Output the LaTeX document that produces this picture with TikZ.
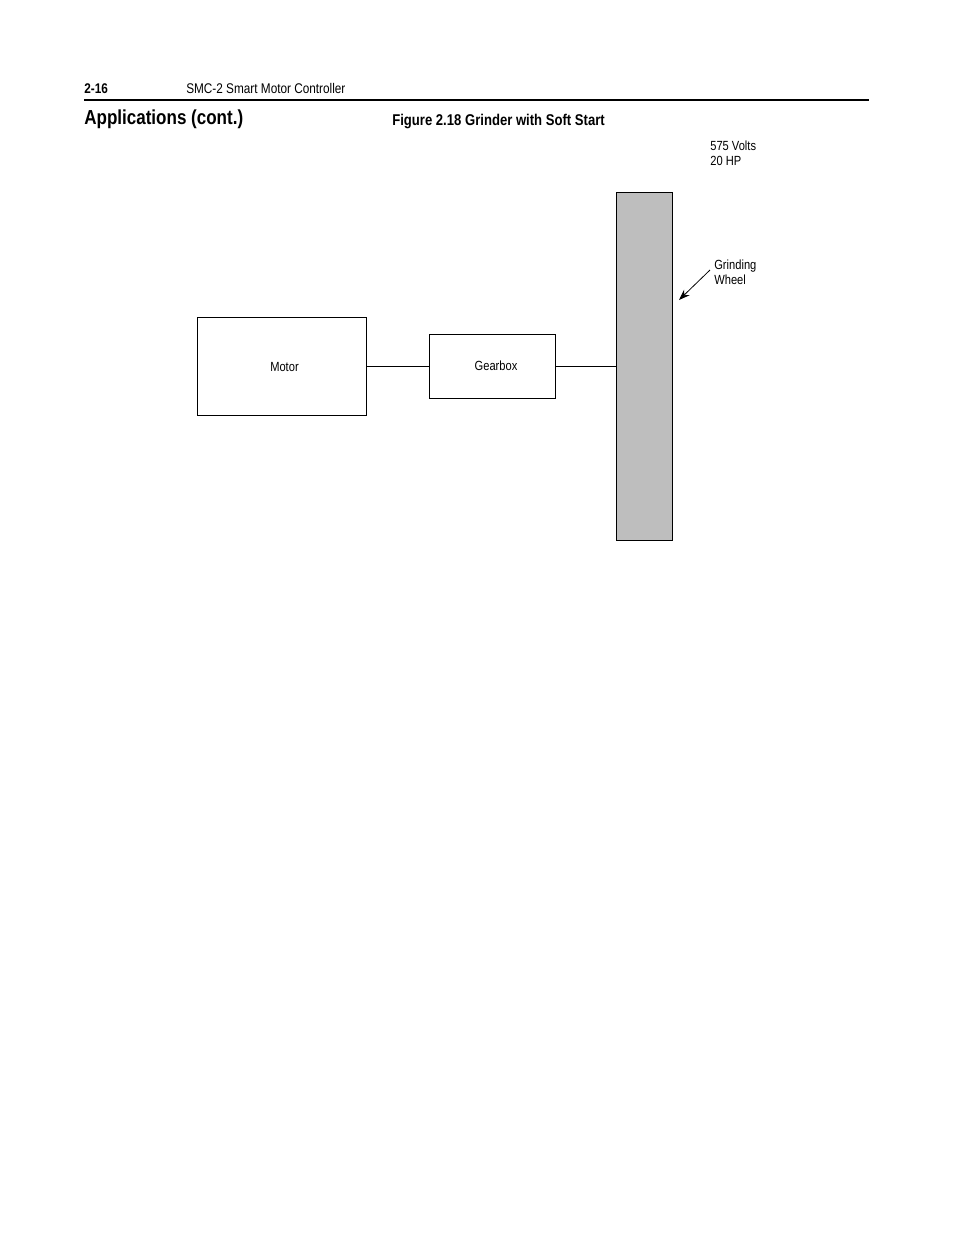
\documentclass[tikz,border=0pt]{standalone}
\usepackage{fontspec}
\setmainfont{Liberation Sans}[FakeStretch=0.84]
\usetikzlibrary{calc}
\usetikzlibrary{positioning}
\usetikzlibrary{arrows.meta}
\definecolor{wheelgray}{RGB}{190,190,190}
\tikzset{
  part/.style={draw=black, line width=0.6pt, inner sep=0, font=\fontsize{8.5}{10}\selectfont},
  lbl/.style={inner sep=0, anchor=west, align=left, font=\fontsize{8.5}{9.5}\selectfont},
  shaft/.style={line width=0.6pt}
}

\begin{document}
\begin{tikzpicture}[x=0.6415pt, y=-0.6415pt]
\useasboundingbox (0,0) rectangle (954,1235);

% page header
\node[inner sep=0, anchor=west, font=\bfseries\fontsize{9}{10}\selectfont] (page) at (84,89) {2-16};
\node[inner sep=0, anchor=west, font=\fontsize{9}{10}\selectfont] (title) at (186,88) {SMC-2 Smart Motor Controller};
\draw[line width=1.4pt] (84,100) -- (869,100);
\node[inner sep=0, anchor=west, font=\bfseries\fontsize{13}{15}\selectfont] (section) at (84,119) {Applications (cont.)};
\node[inner sep=0, anchor=west, font=\bfseries\fontsize{10}{12}\selectfont] (figtitle) at (392,121) {Figure 2.18 Grinder with Soft Start};

% rating
\node[lbl] (rating) at (710,153) {575 Volts\\20 HP};

% parts
\node[part, minimum width=169*0.6415pt, minimum height=98*0.6415pt] (motor) at (281.5,366) {};
\node[part, minimum width=126*0.6415pt, minimum height=64*0.6415pt] (gearbox) at (492,366) {};
\node[part, fill=wheelgray, minimum width=56*0.6415pt, minimum height=348*0.6415pt] (wheel) at (644,366) {};
\node[part, draw=none] (motortxt) at ([shift={(3,1)}]motor.center) {Motor};
\node[part, draw=none] (geartxt) at ([shift={(4,0)}]gearbox.center) {Gearbox};

\draw[shaft] (motor.east) -- (gearbox.west);
\draw[shaft] (gearbox.east) -- (wheel.west);

% label with pointer
\node[lbl] (wheellbl) at (714,272) {Grinding\\Wheel};
\coordinate (tip) at (679,300);
\draw[line width=0.5pt, -{Stealth[length=7pt, width=5pt]}] ([shift={(-4,-2)}]wheellbl.west) -- (tip);

\end{tikzpicture}
\end{document}
